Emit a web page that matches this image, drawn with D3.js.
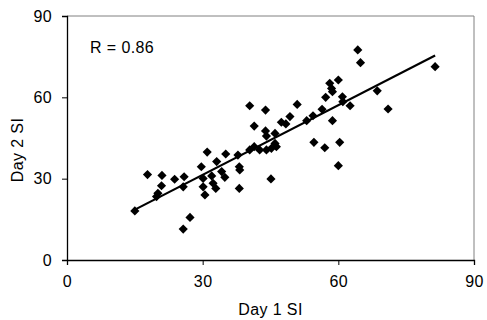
<!DOCTYPE html>
<html>
<head>
<meta charset="utf-8">
<script src="https://cdn.jsdelivr.net/npm/d3@7"></script>
<style>
  body { margin: 0; background: #fff; }
  svg { display: block; }
  text { font-family: "Liberation Sans", Arial, sans-serif; fill: #000; letter-spacing: 0.4px; }
</style>
</head>
<body>
<div id="chart"></div>
<script>
// values
const day1 = [15.0, 17.8, 21.0, 20.9, 20.1, 19.8, 23.8, 25.9, 25.7, 27.2, 25.7,
  29.7, 31.0, 30.1, 30.1, 30.5, 32.3, 32.9, 33.1, 34.2, 34.9, 35.1, 32.0,
  37.8, 38.1, 38.2, 38.1, 40.4, 43.9, 41.4, 43.9, 44.1, 46.0, 47.4, 48.4,
  40.4, 41.4, 42.6, 44.1, 45.2, 46.3, 46.0, 45.1, 49.3, 50.9, 53.0, 54.4,
  56.4, 54.6, 57.0, 58.7, 57.2, 58.1, 58.5, 58.7, 60.0, 60.9, 61.0, 62.6,
  60.3, 60.0, 64.3, 64.9, 68.6, 71.0, 81.4];
const day2 = [18.1, 31.5, 31.2, 27.4, 24.6, 23.4, 29.8, 30.7, 27.0, 15.7, 11.4,
  34.4, 39.8, 30.1, 27.0, 24.0, 28.3, 26.4, 36.3, 32.6, 30.5, 39.1, 31.0,
  38.7, 34.4, 33.2, 26.4, 56.9, 55.3, 49.4, 47.6, 45.7, 46.7, 50.8, 50.2,
  40.6, 41.8, 40.6, 40.6, 41.2, 41.8, 43.0, 29.9, 52.9, 57.4, 51.4, 53.2,
  55.6, 43.4, 41.4, 51.4, 60.0, 65.2, 63.3, 62.1, 66.4, 60.2, 58.4, 56.9,
  43.4, 34.8, 77.5, 72.8, 62.4, 55.7, 71.3];
const trendX = [14.8, 81.4];
const trendY = [18.4, 75.4];
const ticks = [0, 30, 60, 90];
const rLabel = "R = 0.86";

const width = 487, height = 320;
const margin = { top: 16, right: 13, bottom: 60, left: 67 };

const svg = d3.select("#chart").append("svg")
  .attr("width", width)
  .attr("height", height);

const x = d3.scaleLinear().domain([0, 90]).range([margin.left, width - margin.right]);
const y = d3.scaleLinear().domain([0, 90]).range([height - margin.bottom, margin.top]);

// grey frame on top and right
svg.append("path")
  .attr("d", `M${x(0)},${y(90)}H${x(90)}V${y(0)}`)
  .attr("fill", "none")
  .attr("stroke", "#808080")
  .attr("stroke-width", 1);

const xAxis = svg.append("g")
  .attr("transform", `translate(0,${y(0)})`)
  .call(d3.axisBottom(x).tickValues(ticks).tickSize(5).tickPadding(11));
const yAxis = svg.append("g")
  .attr("transform", `translate(${x(0)},0)`)
  .call(d3.axisLeft(y).tickValues(ticks).tickSize(5).tickPadding(10));

[xAxis, yAxis].forEach(g => {
  g.select(".domain").attr("stroke", "#000").attr("stroke-width", 1.3);
  g.selectAll(".tick line").attr("stroke", "#000");
  g.selectAll(".tick text").style("font-size", "16px").attr("fill", "#000");
});

// trend line
svg.append("line")
  .attr("x1", x(trendX[0])).attr("y1", y(trendY[0]))
  .attr("x2", x(trendX[1])).attr("y2", y(trendY[1]))
  .attr("stroke", "#000")
  .attr("stroke-width", 2.2);

// diamonds
const diamond = d3.symbol().type(d3.symbolSquare).size(42);
svg.append("g").selectAll("path")
  .data(day1.map((d, i) => [d, day2[i]]))
  .join("path")
  .attr("d", diamond)
  .attr("transform", d => `translate(${x(d[0])},${y(d[1])}) rotate(45)`)
  .attr("fill", "#000");

svg.append("text")
  .attr("x", 90).attr("y", 53)
  .style("font-size", "16px")
  .text(rLabel);

svg.append("text")
  .attr("x", (x(0) + x(90)) / 2).attr("y", 315)
  .attr("text-anchor", "middle")
  .style("font-size", "16px")
  .text("Day 1 SI");

svg.append("text")
  .attr("transform", "translate(23,150) rotate(-90)")
  .attr("text-anchor", "middle")
  .style("font-size", "16px")
  .text("Day 2 SI");
</script>
</body>
</html>
